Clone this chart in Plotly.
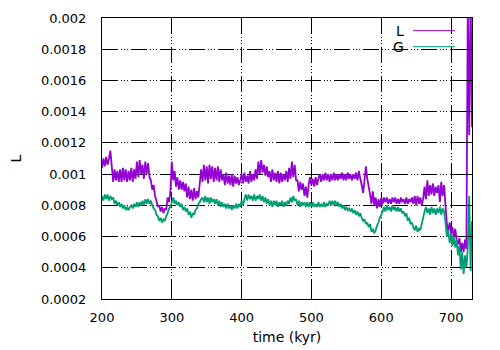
import numpy as np
import plotly.graph_objects as go

# values in units of 1e-4, sampled every 2 kyr from 200 to 730
L_e4 = [
    10.4, 11.0, 10.5, 11.1, 10.6, 11.0,                                  # 200-210
    11.5, 10.5,                                                          # 212-214
    9.5, 10.3, 9.6, 10.2, 9.5, 10.3,                                     # 216-226
    9.5, 10.4, 9.6, 10.3, 9.5, 10.2, 9.6, 10.4, 9.5, 10.3, 9.7,          # 228-248
    10.8, 9.8, 10.9, 10.0, 10.6, 9.7, 10.8, 10.0, 10.7, 9.8,             # 250-268
    9.6, 9.0, 9.3, 8.6, 8.3, 7.9,                                        # 270-280
    8.0, 7.6, 7.9, 7.5, 7.8, 7.7,                                        # 282-292
    8.5, 8.2, 8.9, 10.8, 9.6, 10.2,                                      # 294-304
    9.2, 9.8, 9.0, 9.6, 9.0, 9.5, 8.9,                                   # 306-318
    9.4, 8.5, 9.2, 8.4, 9.0, 8.3, 9.1, 8.4, 8.9, 8.5,                    # 320-338
    9.4, 10.3,                                                           # 340-342
    9.5, 10.6, 9.6, 10.5, 9.4, 10.6, 9.7, 10.5, 9.5, 10.4, 9.6, 10.5, 9.5, 10.3, 9.6,  # 344-372
    10.0, 9.3, 10.1, 9.4, 9.9, 9.3, 10.0, 9.2, 9.9, 9.4, 9.8, 9.3, 9.6,  # 374-398
    10.0, 9.4, 10.1, 9.5, 9.9, 9.4, 10.2, 9.5, 10.0, 9.6, 10.3, 9.7,     # 400-422
    10.8, 10.0, 10.9, 10.1, 10.6, 9.9, 10.5, 9.8,                        # 424-438
    10.2, 9.5, 10.3, 9.6, 10.1, 9.5, 10.2, 9.4, 10.1, 9.5, 10.0, 9.6, 10.2, 9.5,  # 440-466
    10.4, 9.7, 10.8, 9.8, 10.6, 9.6,                                     # 468-478
    9.6, 8.9, 9.5, 9.0, 9.4, 8.6, 9.2,                                   # 480-492
    8.5, 9.3,                                                            # 494-496
    9.8, 9.3, 9.7, 9.2, 9.8, 9.3, 9.7,                                   # 498-510
    10.0, 9.5, 10.0, 9.6, 10.1, 9.6, 10.0, 9.5, 10.0, 9.6,
    10.1, 9.6, 10.0, 9.6, 10.0, 9.7, 10.1, 9.6, 10.0, 9.6,
    10.1, 9.7, 10.0, 9.6, 10.0, 9.7, 10.1, 9.6, 10.2, 9.7,               # 512-570
    9.3, 8.8, 9.6, 10.5, 9.7, 9.2,                                       # 572-582
    8.7, 8.1, 8.9, 8.0, 8.5, 7.8, 8.4, 7.9,                              # 584-598
    8.5, 8.1, 8.5, 8.2, 8.5, 8.1, 8.4, 8.1, 8.5, 8.2,
    8.5, 8.1, 8.4, 8.1, 8.5, 8.2, 8.4, 8.1, 8.5, 8.1,
    8.4, 8.2, 8.5, 8.1, 8.6, 8.0, 8.6, 8.1, 8.5, 8.0, 8.4,               # 600-660
    9.2, 8.4, 9.6, 8.6, 9.3, 8.7, 9.4, 8.6, 9.2, 8.8, 9.3, 8.2, 9.5, 8.6, 9.3,  # 662-690
    8.0, 6.8,                                                            # 692-694
    6.4, 6.9, 6.2, 6.6, 5.9, 6.5, 5.8,                                   # 696-708
    5.5, 5.9, 5.0, 5.6, 5.0, 5.8, 5.2,                                   # 710-722
    21.0, 12.5, 22.0, 13.0,                                              # 724-730
]

G_e4 = [
    8.6, 8.3, 8.7, 8.4, 8.7, 8.3, 8.6, 8.4,                              # 200-214
    8.5, 8.1, 8.3, 8.0, 8.2, 7.9, 8.1, 7.8, 8.0, 7.7, 7.9, 7.7, 7.9,     # 216-240
    8.0, 7.8, 8.1, 7.9, 8.2, 7.9, 8.2, 8.0, 8.3, 8.0, 8.4, 8.1, 8.4, 8.1, 8.3,  # 242-270
    8.0, 7.8, 7.7, 7.4, 7.3, 7.0, 7.2, 6.9, 7.1, 7.0, 7.3,               # 272-292
    7.5, 7.8, 7.9, 8.2,                                                  # 294-300
    8.5, 8.1,                                                            # 302-304
    8.3, 8.0, 8.2, 7.9, 8.1, 7.7, 7.9, 7.6, 7.8, 7.4, 7.6, 7.2, 7.5,     # 306-330
    7.4, 7.7, 7.8, 8.1, 8.2, 8.4,                                        # 332-342
    8.5, 8.2, 8.6, 8.2, 8.5, 8.1, 8.5, 8.2, 8.4, 8.1, 8.4,               # 344-364
    8.0, 8.3, 7.9, 8.2, 7.9, 8.1, 7.8, 8.1, 7.8, 8.0, 7.7, 8.0, 7.8, 8.1, 7.8, 8.1, 7.9,  # 366-398
    8.3, 8.0, 8.4,                                                       # 400-404
    8.7, 8.3, 8.7, 8.4, 8.6, 8.3, 8.7, 8.3, 8.6, 8.4, 8.7, 8.3, 8.6, 8.2, 8.5,  # 406-434
    8.1, 8.4, 8.0, 8.3, 7.9, 8.3, 8.0, 8.3, 7.9, 8.2, 8.0, 8.3, 7.9, 8.2, 8.0, 8.3, 8.1,  # 436-468
    8.5, 8.2, 8.6, 8.3, 8.4,                                             # 470-478
    8.0, 8.3, 7.9, 8.2, 8.0, 8.2, 7.9,                                   # 480-492
    8.2, 7.9, 8.2, 7.9, 8.2, 7.9, 8.1, 7.9, 8.2, 7.9, 8.1, 7.9, 8.2, 7.9, 8.1, 8.0, 8.3,  # 494-526
    8.0, 8.3, 8.0, 8.3, 8.0, 8.2, 7.9,                                   # 528-540
    8.1, 7.8, 8.0, 7.7, 7.9, 7.7, 7.8, 7.6, 7.8, 7.5, 7.7, 7.4, 7.6, 7.3, 7.5,  # 542-570
    7.2, 7.0, 7.1, 6.8, 6.9, 6.6, 6.8, 6.3, 6.5, 6.2, 6.4,               # 572-592
    6.7, 6.9, 7.2, 7.4, 7.6,                                             # 594-602
    7.9, 7.6, 8.0, 7.7, 7.9, 7.6, 8.0, 7.7, 7.9, 7.6, 7.9, 7.6, 7.8, 7.5, 7.6,  # 604-632
    7.3, 7.5, 7.0, 7.2, 6.8, 6.9, 6.6,                                   # 634-646
    6.4, 6.7, 6.3, 6.5, 6.4,                                             # 648-656
    6.8, 7.2, 7.6,                                                       # 658-662
    7.9, 7.5, 7.8, 7.4, 7.9, 7.5, 7.8, 7.4, 7.8, 7.5, 7.9, 7.4, 7.8, 7.6,  # 664-690
    6.9, 6.0,                                                            # 692-694
    6.4, 5.6, 6.2, 5.4, 6.0, 5.3, 5.8,                                   # 696-708
    4.8, 5.4, 3.9, 5.0, 3.6, 4.8, 4.0, 5.3,                              # 710-724
    8.6, 3.8, 7.0,                                                       # 726-730
]

x_ticks = [200, 300, 400, 500, 600, 700]
y_ticks = [0.0002, 0.0004, 0.0006, 0.0008, 0.001, 0.0012, 0.0014, 0.0016, 0.0018, 0.002]
y_ticktext = ["0.0002", "0.0004", "0.0006", "0.0008", "0.001", "0.0012", "0.0014", "0.0016", "0.0018", "0.002"]

time = np.arange(200, 200 + 2 * len(L_e4), 2)
L = np.array(L_e4) * 1e-4
G = np.array(G_e4) * 1e-4

purple = "#9400D3"
green = "#009E73"
font = "DejaVu Sans"

fig = go.Figure()
fig.add_trace(go.Scatter(x=time, y=L, mode="lines", name="L",
                         line=dict(color=purple, width=1.8, simplify=False)))
fig.add_trace(go.Scatter(x=time[:len(G)], y=G, mode="lines", name="G",
                         line=dict(color=green, width=1.8, simplify=False)))

grid_dash = "16px,3px,1px,2px,1px,2px,1px,3px"
axis_common = dict(
    showline=True, linecolor="black", linewidth=1, mirror="ticks",
    ticks="inside", ticklen=6, tickcolor="black", automargin=False,
    showgrid=True, gridcolor="black", gridwidth=1, griddash=grid_dash,
    zeroline=False, tickfont=dict(family=font, size=13, color="black"),
)

fig.update_xaxes(range=[200, 730], tickvals=x_ticks, ticklabelstandoff=6,
                 title=dict(text="time (kyr)", font=dict(family=font, size=14, color="black"), standoff=8),
                 **axis_common)
fig.update_yaxes(range=[0.0002, 0.002], tickvals=y_ticks, ticktext=y_ticktext, ticklabelstandoff=12,
                 title=dict(text="L", font=dict(family=font, size=14, color="black"), standoff=21),
                 **axis_common)

# gnuplot-style key: label on the left, line sample on the right
for label, color, yk in [("L", purple, 0.955), ("G", green, 0.898)]:
    fig.add_annotation(x=0.822, y=yk, xref="paper", yref="paper", text=label, showarrow=False,
                       xanchor="right", yanchor="middle", font=dict(family=font, size=14, color="black"))
    fig.add_shape(type="line", xref="paper", yref="paper", x0=0.8405, x1=0.954, y0=yk, y1=yk,
                  line=dict(color=color, width=1))

# the page body adds an 8px offset, so margins are shifted to land the plot box at 102..472 x 18..299
fig.update_layout(
    width=500, height=350,
    margin=dict(l=94, r=36, t=10, b=59),
    paper_bgcolor="white", plot_bgcolor="white",
    showlegend=False,
    font=dict(family=font, size=13, color="black"),
)

fig.write_html("out.html")
